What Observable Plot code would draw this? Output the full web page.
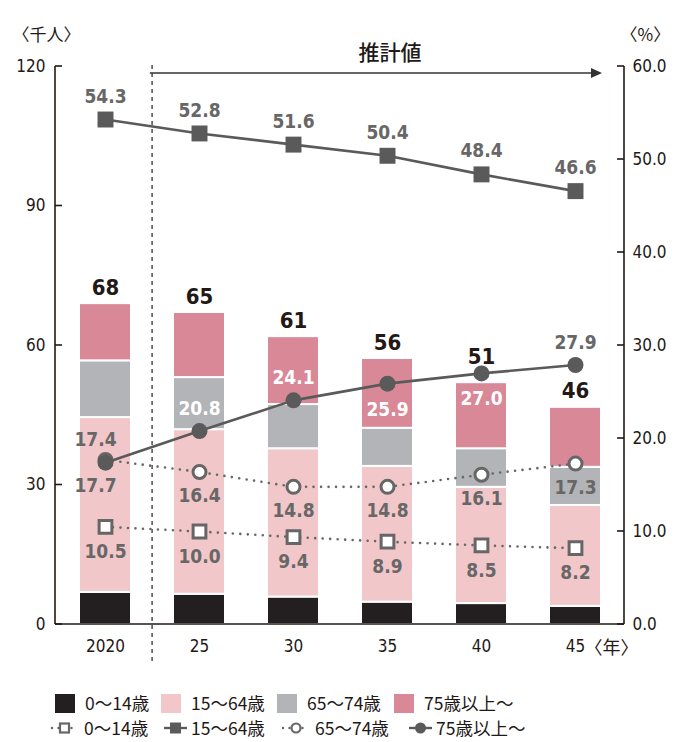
<!DOCTYPE html>
<html><head><meta charset="utf-8">
<script src="https://cdn.jsdelivr.net/npm/d3@7"></script>
<script src="https://cdn.jsdelivr.net/npm/@observablehq/plot@0.6"></script>
<style>
body{margin:0;background:#fff;font-family:"Noto Sans CJK JP",sans-serif;}
#chart{width:685px;height:742px;position:relative;overflow:hidden;}
#chart svg{display:block;}
.it{position:absolute;display:flex;align-items:center;font-size:17.5px;line-height:20px;height:20px;color:#231815;white-space:nowrap;}
.sw{width:20px;height:19px;display:inline-block;margin-right:10px;}
.it svg{margin-right:4px;}
</style></head><body><div id="chart"></div>
<script>
const years = ["2020","25","30","35","40","45"];
const totals = [68,65,61,56,51,46];
const groups = ["0〜14歳","15〜64歳","65〜74歳","75歳以上〜"];
const pop0_14  = [6.9, 6.5, 5.9, 4.8, 4.5, 3.9];
const pop15_64 = [37.6, 35.4, 31.9, 29.2, 25.0, 21.7];
const pop65_74 = [12.2, 11.2, 9.5, 8.2, 8.3, 8.2];
const pop75    = [12.3, 14.0, 14.6, 15.0, 14.2, 12.9];
const pct0_14  = [10.5, 10.0, 9.4, 8.9, 8.5, 8.2];
const pct15_64 = [54.3, 52.8, 51.6, 50.4, 48.4, 46.6];
const pct65_74 = [17.7, 16.4, 14.8, 14.8, 16.1, 17.3];
const pct75    = [17.4, 20.8, 24.1, 25.9, 27.0, 27.9];
const leftTicks = [0, 30, 60, 90, 120];
const rightTicks = [0, 10, 20, 30, 40, 50, 60];
const colors = ["#231f20", "#f2c7ca", "#b3b4b7", "#d98898"];

const W = 685, H = 680, ML = 55, MR = 61, MT = 66, MB = 56;
const step = (W - ML - MR) / years.length;
const K = 120 / 60; // percent -> left axis units
const numFont = "'DejaVu Sans Condensed', 'Liberation Sans Narrow', Roboto, sans-serif";
const jpFont = "'Noto Sans CJK JP', sans-serif";
const ink = "#231815", lineC = "#5a5a5a", labC = "#676767";

const series = [pop0_14, pop15_64, pop65_74, pop75];
const barData = years.flatMap((yr, i) => series.map((arr, k) => ({year: yr, group: groups[k], value: arr[i]})));
const totData = years.map((yr, i) => ({year: yr, y: series.reduce((s, a) => s + a[i], 0), t: totals[i], i}));
const mk = arr => years.map((yr, i) => ({year: yr, v: arr[i] * K, t: arr[i].toFixed(1), i}));
const d0 = mk(pct0_14), d1 = mk(pct15_64), d2 = mk(pct65_74), d3s = mk(pct75);

const lab = {fontFamily: numFont, fontWeight: "bold", fontSize: 19, fill: labC, stroke: null};

function axisLines(index, scales, values, dims) {
  const y = scales.y;
  const x0 = dims.marginLeft, x1 = dims.width - dims.marginRight;
  const g = d3.create("svg:g").attr("fill", "none").attr("stroke", ink).attr("stroke-width", 1.6);
  g.append("line").attr("x1", x0).attr("x2", x0).attr("y1", y(120)).attr("y2", y(0));
  g.append("line").attr("x1", x1).attr("x2", x1).attr("y1", y(120)).attr("y2", y(0));
  g.append("line").attr("x1", x0).attr("x2", x1).attr("y1", y(0)).attr("y2", y(0));
  for (const t of leftTicks) g.append("line").attr("x1", x0).attr("x2", x0 + 7).attr("y1", y(t)).attr("y2", y(t));
  for (const t of rightTicks) g.append("line").attr("x1", x1 - 7).attr("x2", x1).attr("y1", y(t * K)).attr("y2", y(t * K));
  // forecast arrow
  const ax0 = x0 + step, ax1 = x1 - 22, ay = y(120) + 7;
  g.append("line").attr("x1", ax0).attr("x2", ax1 - 8).attr("y1", ay).attr("y2", ay).attr("stroke-width", 1.5).attr("stroke", "#333");
  g.append("path").attr("d", `M${ax1},${ay}L${ax1 - 11},${ay - 5}L${ax1 - 11},${ay + 5}Z`).attr("fill", "#333").attr("stroke", "none");
  return g.node();
}

const plot = Plot.plot({
  width: W, height: H,
  marginLeft: ML, marginRight: MR, marginTop: MT, marginBottom: MB,
  style: {fontFamily: numFont, fontSize: "17px", color: ink, background: "white"},
  x: {domain: years, paddingInner: 0.45, paddingOuter: 0.225, label: null},
  y: {domain: [0, 120], label: null},
  color: {domain: groups, range: colors},
  marks: [
    Plot.barY(barData, {x: "year", y: "value", fill: "group", stroke: "white", strokeWidth: 2}),
    Plot.ruleX(["25"], {dx: -step / 2, insetBottom: -41, insetTop: -1, stroke: "#333", strokeWidth: 1.3, strokeDasharray: "4,4"}),
    axisLines,
    Plot.axisY({ticks: leftTicks, tickSize: 0, tickPadding: 10, anchor: "left", fontSize: 17, fill: ink, label: null}),
    Plot.axisY({ticks: rightTicks.map(t => t * K), tickFormat: d => (d / K).toFixed(1), tickSize: 0, tickPadding: 8, anchor: "right", fontSize: 17, fill: ink, label: null}),
    Plot.axisX({tickSize: 0, tickPadding: 15, fontSize: 17, fill: ink, label: null}),
    // total labels
    Plot.text(totData, {filter: d => d.i !== 4, x: "year", y: "y", text: "t", dy: -16, fontFamily: numFont, fontWeight: "bold", fontSize: 22, fill: ink}),
    Plot.text(totData, {filter: d => d.i === 4, x: "year", y: "y", text: "t", dy: -26, fontFamily: numFont, fontWeight: "bold", fontSize: 22, fill: ink}),
    // dotted lines
    Plot.line(d0, {x: "year", y: "v", stroke: "#666", strokeWidth: 2.6, strokeDasharray: "0,7.5", strokeLinecap: "round"}),
    Plot.line(d2, {x: "year", y: "v", stroke: "#666", strokeWidth: 2.6, strokeDasharray: "0,7.5", strokeLinecap: "round"}),
    Plot.dot(d0, {x: "year", y: "v", symbol: "square", r: 7.2, fill: "white", stroke: "#666", strokeWidth: 3}),
    Plot.dot(d2, {x: "year", y: "v", symbol: "circle", r: 6.5, fill: "white", stroke: "#666", strokeWidth: 3}),
    // solid lines
    Plot.line(d1, {x: "year", y: "v", stroke: lineC, strokeWidth: 2.6}),
    Plot.line(d3s, {x: "year", y: "v", stroke: lineC, strokeWidth: 2.6}),
    Plot.dot(d1, {x: "year", y: "v", symbol: "square", r: 9, fill: lineC, stroke: null}),
    Plot.dot(d3s, {x: "year", y: "v", symbol: "circle", r: 8, fill: lineC, stroke: null}),
    // value labels
    Plot.text(d1, {x: "year", y: "v", text: "t", dy: -23, ...lab}),
    Plot.text(d0, {x: "year", y: "v", text: "t", dy: 25, ...lab}),
    Plot.text(d2, {filter: d => d.i === 0, x: "year", y: "v", text: "t", dy: 26, dx: -10, ...lab}),
    Plot.text(d2, {filter: d => d.i > 0, x: "year", y: "v", text: "t", dy: 24, ...lab}),
    Plot.text(d3s, {filter: d => d.i === 0, x: "year", y: "v", text: "t", dy: -23, dx: -10, ...lab}),
    Plot.text(d3s, {filter: d => d.i === 5, x: "year", y: "v", text: "t", dy: -22, ...lab}),
    Plot.text(d3s, {filter: d => d.i === 1 || d.i === 2, x: "year", y: "v", text: "t", dy: -22, ...lab, fill: "white"}),
    Plot.text(d3s, {filter: d => d.i === 3 || d.i === 4, x: "year", y: "v", text: "t", dy: 26, ...lab, fill: "white"}),
    // annotations
    Plot.text(["〈千人〉"], {frameAnchor: "top-left", textAnchor: "start", dx: -43, dy: -38, fontFamily: jpFont, fontSize: 17, fill: ink}),
    Plot.text(["〈%〉"], {frameAnchor: "top-right", textAnchor: "start", dx: -4, dy: -38, fontFamily: jpFont, fontSize: 17, fill: ink}),
    Plot.text(["推計値"], {frameAnchor: "top", dx: 50, dy: -21, fontFamily: jpFont, fontSize: 21, fontWeight: 500, fill: ink}),
    Plot.text(["〈年〉"], {frameAnchor: "bottom-right", textAnchor: "start", dx: -40, dy: 29, fontFamily: jpFont, fontSize: 18, fill: ink})
  ]
});
const chart = document.getElementById("chart");
chart.appendChild(plot);

// legend
const row1Left = [55, 161, 277, 394];
const row2Left = [50, 164, 281, 409];
function item(top, left, html) {
  const s = document.createElement("span");
  s.className = "it";
  s.style.top = top + "px";
  s.style.left = left + "px";
  s.innerHTML = html;
  chart.appendChild(s);
}
groups.forEach((g, k) => item(693, row1Left[k], `<span class="sw" style="background:${colors[k]}"></span>${g}`));
const dotted = (shape) => `<svg width="30" height="14" viewBox="0 0 30 14"><line x1="2" x2="28" y1="7" y2="7" stroke="#666" stroke-width="2.4" stroke-dasharray="0,6.5" stroke-linecap="round"/>${shape}</svg>`;
const solid = (shape) => `<svg width="23" height="14" viewBox="0 0 23 14"><line x1="0" x2="23" y1="7" y2="7" stroke="${lineC}" stroke-width="2.4"/>${shape}</svg>`;
const icons = [
  dotted(`<rect x="10" y="2.5" width="9" height="9" fill="white" stroke="#666" stroke-width="2.2"/>`),
  solid(`<rect x="6" y="1.5" width="11" height="11" fill="${lineC}"/>`),
  dotted(`<circle cx="15" cy="7" r="4.5" fill="white" stroke="#666" stroke-width="2.2"/>`),
  solid(`<circle cx="11.5" cy="7" r="5.5" fill="${lineC}"/>`)
];
groups.forEach((g, k) => item(718, row2Left[k], `${icons[k]}${g}`));
</script></body></html>
